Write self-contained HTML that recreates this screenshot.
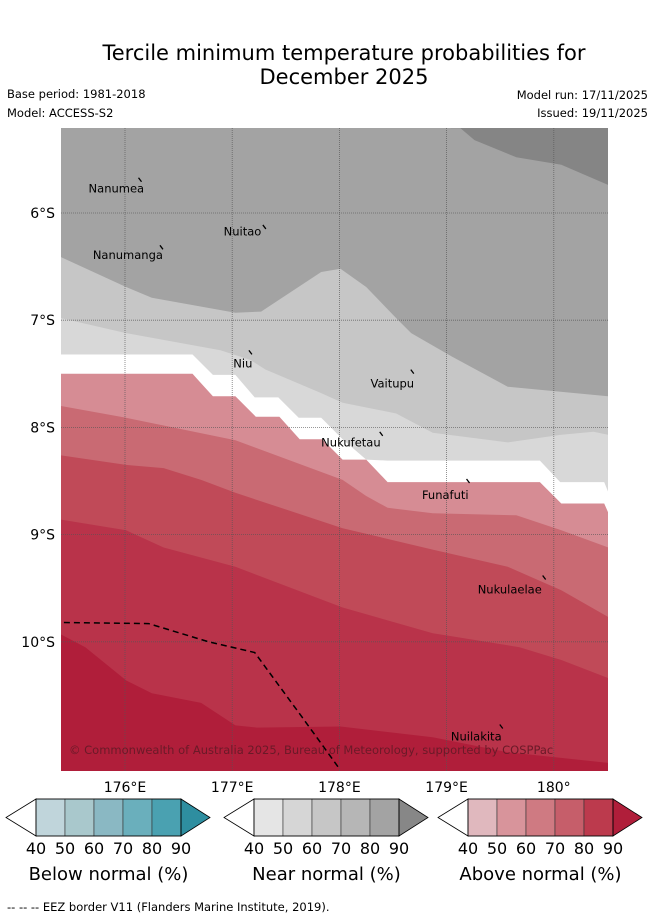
<!DOCTYPE html>
<html><head><meta charset="utf-8">
<style>
html,body{margin:0;padding:0;background:#fff;width:655px;height:919px;overflow:hidden}
svg{display:block;font-family:"DejaVu Sans","Liberation Sans",sans-serif}
</style></head>
<body>
<svg id="chart" width="655" height="919" viewBox="0 0 655 919">
<text x="344" y="60" text-anchor="middle" font-size="21">Tercile minimum temperature probabilities for</text>
<text x="344" y="84" text-anchor="middle" font-size="21">December 2025</text>
<text x="7" y="98" font-size="11.5">Base period: 1981-2018</text>
<text x="7" y="117" font-size="11.5">Model: ACCESS-S2</text>
<text x="648" y="99" font-size="11.5" text-anchor="end">Model run: 17/11/2025</text>
<text x="648" y="117" font-size="11.5" text-anchor="end">Issued: 19/11/2025</text>
<clipPath id="mapclip"><rect x="61" y="128" width="547" height="643"/></clipPath>
<g id="bands" clip-path="url(#mapclip)"></g>
<g id="grid" clip-path="url(#mapclip)"></g>
<g id="eez" clip-path="url(#mapclip)"></g>
<g id="islands"></g>
<text x="69" y="754" font-size="11.5" fill="#6a1a28">© Commonwealth of Australia 2025, Bureau of Meteorology, supported by COSPPac</text>
<g id="axes"></g>
<g id="cbars"></g>
<text x="7" y="911" font-size="11.5">--  --  -- EEZ border V11 (Flanders Marine Institute, 2019).</text>
</svg>
<script>
// ---- data (lon °E, lat °S) ----
const lonTicks = [176,177,178,179,180];
const lonTickLabels = ["176°E","177°E","178°E","179°E","180°"];
const latTicks = [6,7,8,9,10];
const latTickLabels = ["6°S","7°S","8°S","9°S","10°S"];
const bandColors = ["#858585","#c6c6c6","#d8d8d8","#ffffff","#d68c94","#c96a73","#c04a58","#b9334a","#b01e3a"];
const bandAbove = [true,false,false,false,false,false,false,false,false];
const bandDarkGray = [[179.13,5.21],[179.26,5.32],[179.65,5.48],[180.07,5.55],[180.51,5.74]];
const bandLightGray = [[175.40,6.41],[176.01,6.69],[176.25,6.79],[177.03,6.93],[177.27,6.92],[177.83,6.55],[178.01,6.52],[178.25,6.69],[178.53,6.98],[178.67,7.12],[179.05,7.34],[179.57,7.62],[180.51,7.71]];
const bandLighter = [[175.40,6.98],[176.01,7.12],[176.89,7.28],[177.17,7.37],[177.31,7.46],[177.83,7.68],[178.03,7.77],[178.53,7.87],[178.87,8.05],[179.57,8.14],[180.06,8.07],[180.37,8.04],[180.51,8.07]];
const bandWhite = [[175.40,7.32],[176.63,7.32],[176.82,7.51],[177.03,7.51],[177.21,7.72],[177.43,7.72],[177.62,7.91],[177.83,7.91],[178.03,8.11],[178.25,8.30],[178.45,8.31],[179.87,8.31],[180.06,8.51],[180.47,8.51],[180.51,8.61]];
const bandPink = [[175.40,7.50],[176.63,7.50],[176.82,7.71],[177.03,7.71],[177.22,7.90],[177.44,7.90],[177.63,8.11],[177.84,8.11],[178.03,8.30],[178.25,8.30],[178.45,8.51],[179.87,8.51],[180.07,8.71],[180.47,8.71],[180.51,8.80]];
const band5060 = [[175.40,7.80],[176.01,7.91],[177.03,8.12],[178.03,8.49],[178.25,8.64],[178.45,8.75],[178.87,8.80],[179.65,8.82],[180.07,8.96],[180.51,9.12]];
const band6070 = [[175.40,8.26],[176.01,8.35],[176.36,8.38],[176.71,8.49],[177.03,8.61],[178.03,8.94],[178.87,9.14],[179.57,9.30],[180.07,9.52],[180.51,9.77]];
const band7080 = [[175.40,8.86],[176.01,8.96],[176.36,9.12],[177.03,9.30],[178.03,9.68],[178.87,9.92],[179.68,10.05],[180.07,10.17],[180.51,10.34]];
const band8090 = [[175.40,9.93],[175.63,10.05],[176.01,10.36],[176.25,10.48],[176.71,10.57],[177.03,10.78],[177.23,10.80],[178.01,10.79],[178.87,10.89],[179.57,11.03],[180.51,11.13]];
const bandLines = [bandDarkGray,bandLightGray,bandLighter,bandWhite,bandPink,band5060,band6070,band7080,band8090];
const bandNames = ["band-near-over-90","band-near-60-70","band-near-50-60","band-below-40","band-above-40-50","band-above-50-60","band-above-60-70","band-above-70-80","band-above-80-90"];
const eezLine = [[175.43,9.82],[176.22,9.83],[176.78,10.00],[177.21,10.10],[177.65,10.70],[177.99,11.17]];
const islandNames = ["Nanumea","Nuitao","Nanumanga","Niu","Vaitupu","Nukufetau","Funafuti","Nukulaelae","Nuilakita"];
const islandLon = [176.14,177.30,176.34,177.17,178.68,178.39,179.20,179.91,179.51];
const islandLat = [5.69,6.13,6.32,7.30,7.48,8.06,8.50,9.40,10.79];
const labelLon = [175.66,176.92,175.70,177.01,178.29,177.83,178.77,179.29,179.04];
const labelLat = [5.81,6.21,6.43,7.44,7.63,8.18,8.67,9.55,10.92];
const cbarValues = [40,50,60,70,80,90];
const cbarTitles = ["Below normal (%)","Near normal (%)","Above normal (%)"];
const cbarColors = [
 ["#c0d5db","#a9c8cc","#8ab8c3","#6aafbc","#4aa1b1","#2e8ea0"],
 ["#e5e5e5","#d6d6d6","#c6c6c6","#b6b6b6","#a3a3a3","#878787"],
 ["#e0b8be","#d8949b","#cf7a82","#c65e6a","#bc3a4d","#b01e3a"]];

// ---- axes ----
const X0=61,X1=608,Y0=128,Y1=771;
const xS = lon => 125 + (lon-176)*107.2;
const yS = lat => 213 + (lat-6)*107.2;
const NS="http://www.w3.org/2000/svg";
function mk(tag,attrs,parent){const e=document.createElementNS(NS,tag);for(const k in attrs)e.setAttribute(k,attrs[k]);parent.appendChild(e);return e;}

const bands=document.getElementById('bands');
const bg=mk('rect',{x:X0,y:Y0,width:X1-X0,height:Y1-Y0,fill:"#a3a3a3"},bands);


bandLines.forEach((line,i)=>{
  const pts=line.map(p=>xS(p[0]).toFixed(1)+","+yS(p[1]).toFixed(1));
  const edgeY = bandAbove[i] ? Y0-5 : Y1+5;
  const first=line[0], last=line[line.length-1];
  pts.push((xS(last[0])+10)+","+yS(last[1]).toFixed(1));
  pts.push((xS(last[0])+10)+","+edgeY);
  pts.push((xS(first[0])-10)+","+edgeY);
  pts.push((xS(first[0])-10)+","+yS(first[1]).toFixed(1));
  const poly=mk('polygon',{points:pts.join(" "),fill:bandColors[i]},bands);
  
  
});

const grid=document.getElementById('grid');
lonTicks.forEach(l=>{const g=mk('line',{x1:xS(l),x2:xS(l),y1:Y0,y2:Y1,stroke:"#555",'stroke-width':0.8,'stroke-dasharray':"1,1",opacity:0.8},grid);

});
latTicks.forEach(l=>{const g=mk('line',{x1:X0,x2:X1,y1:yS(l),y2:yS(l),stroke:"#555",'stroke-width':0.8,'stroke-dasharray':"1,1",opacity:0.8},grid);

});

const eez=document.getElementById('eez');
const ep=mk('polyline',{points:eezLine.map(p=>xS(p[0])+","+yS(p[1])).join(" "),fill:"none",stroke:"#000",'stroke-width':1.5,'stroke-dasharray':"6,4"},eez);



const isl=document.getElementById('islands');
islandNames.forEach((n,i)=>{
  const m=mk('line',{x1:xS(islandLon[i])-1.5,y1:yS(islandLat[i])-2,x2:xS(islandLon[i])+1.5,y2:yS(islandLat[i])+2,stroke:"#000",'stroke-width':1.3},isl);
  
  
  const t=mk('text',{x:xS(labelLon[i]),y:yS(labelLat[i]),'font-size':11.5,fill:"#000"},isl);
  t.textContent=n;
  
  
});

const ax=document.getElementById('axes');
lonTicks.forEach((l,i)=>{const t=mk('text',{x:xS(l),y:792,'font-size':14,'text-anchor':'middle'},ax);t.textContent=lonTickLabels[i];

});
latTicks.forEach((l,i)=>{const t=mk('text',{x:55,y:yS(l)+5,'font-size':14,'text-anchor':'end'},ax);t.textContent=latTickLabels[i];

});

const cb=document.getElementById('cbars');
const cbLeft=[36,254,468], cw=29, cy0=799, cy1=836, cmid=817.5;
cbarColors.forEach((cols,k)=>{
  const L=cbLeft[k];
  const g=mk('g',{},cb);
  
  
  mk('polygon',{points:`${L},${cy0} ${L-30},${cmid} ${L},${cy1}`,fill:"#fff",stroke:"#000",'stroke-width':0.8},g);
  for(let j=0;j<5;j++){mk('rect',{x:L+j*cw,y:cy0,width:cw,height:cy1-cy0,fill:cols[j],stroke:"#333",'stroke-width':0.6},g);}
  mk('polygon',{points:`${L+5*cw},${cy0} ${L+5*cw+29},${cmid} ${L+5*cw},${cy1}`,fill:cols[5],stroke:"#000",'stroke-width':0.8},g);
  mk('rect',{x:L,y:cy0,width:5*cw,height:cy1-cy0,fill:"none",stroke:"#000",'stroke-width':0.8},g);
  cbarValues.forEach((v,j)=>{const t=mk('text',{x:L+j*cw,y:854,'font-size':16,'text-anchor':'middle'},g);t.textContent=v;
  
  });
  const tt=mk('text',{x:L+2.5*cw,y:880,'font-size':18,'text-anchor':'middle'},g);tt.textContent=cbarTitles[k];
  
  
});
</script>
</body></html>
